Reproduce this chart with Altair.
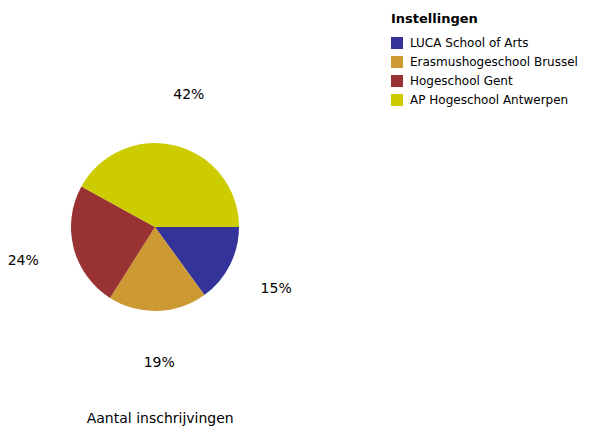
import math
import altair as alt
import pandas as pd

instellingen = ["LUCA School of Arts", "Erasmushogeschool Brussel", "Hogeschool Gent", "AP Hogeschool Antwerpen"]
aandeel = [15, 19, 24, 42]
kleuren = ["#333399", "#CC9933", "#993333", "#CCCC00"]

df = pd.DataFrame({
    "Instelling": instellingen,
    "Aandeel": aandeel,
    "Volgorde": list(range(len(instellingen))),
    "Label": [f"{v}%" for v in aandeel],
})

theta = alt.Theta("Aandeel:Q", stack=True,
                  scale=alt.Scale(range=[math.pi / 2, math.pi / 2 + 2 * math.pi]))
color = alt.Color("Instelling:N",
                  scale=alt.Scale(domain=instellingen, range=kleuren),
                  sort=instellingen,
                  legend=alt.Legend(title="Instellingen", orient="none",
                                    legendX=383, legendY=5))

base = alt.Chart(df).encode(
    theta=theta,
    order=alt.Order("Volgorde:Q"),
    x=alt.value(147),
    y=alt.value(219),
)

pie = base.mark_arc(radius=84).encode(color=color)
labels = base.mark_text(radius=136, fontSize=14, font="DejaVu Sans", color="black").encode(
    text="Label:N"
)

chart = (pie + labels).properties(
    width=576,
    height=418,
    padding=0,
    autosize=alt.AutoSizeParams(type="none"),
    title=alt.TitleParams("Aantal inschrijvingen", orient="bottom", anchor="start",
                          dx=79, fontSize=14, fontWeight="normal", font="DejaVu Sans",
                          color="black", offset=-14),
).configure_view(stroke=None).configure_legend(
    titleFont="DejaVu Sans", titleFontSize=13, titleFontWeight="bold", titleColor="black",
    labelFont="DejaVu Sans", labelFontSize=12, labelColor="black", labelLimit=0,
    labelOffset=7,
    symbolType="square", symbolSize=144, symbolStrokeWidth=0,
    rowPadding=7, titlePadding=11, padding=0,
)

chart.save("out.html", embed_options={"renderer": "svg", "actions": False})
